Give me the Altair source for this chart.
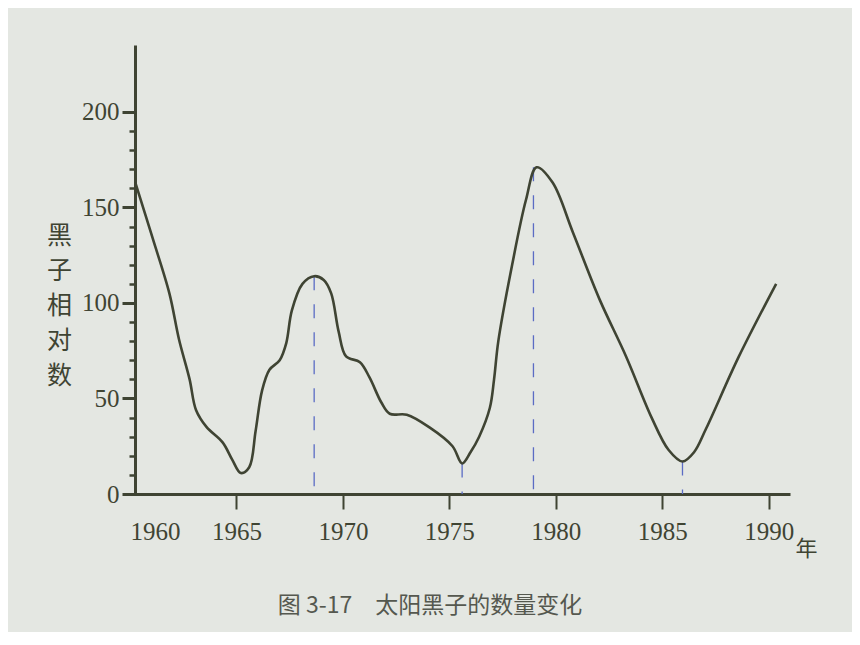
import altair as alt
import pandas as pd

# Curve of sunspot relative numbers
years = [1960.25, 1961.06, 1961.85, 1962.3, 1962.8, 1963.1, 1963.6, 1964.35, 1964.8, 1965.2,
         1965.6, 1965.9, 1966.2, 1966.55, 1967.03, 1967.34, 1967.6, 1968.1, 1968.65, 1969.1,
         1969.45, 1969.8, 1970.15, 1970.8, 1971.25, 1971.8, 1972.2, 1973.0, 1974.05, 1975.15,
         1975.6, 1976.0, 1976.4, 1976.9, 1977.1, 1977.3, 1977.95, 1978.6, 1979.1, 1979.85,
         1980.8, 1982.05, 1983.3, 1984.5, 1985.3, 1985.95, 1986.5, 1987.05, 1988.6, 1990.35]
values = [163, 134, 105, 81, 60, 44, 35, 27, 18, 11,
          14, 33, 54, 65, 70, 79, 96, 110, 114, 112,
          105, 85, 72, 69, 61, 48, 42, 41.5, 35, 25,
          16, 22, 30, 45, 60, 80, 120, 154, 171, 163,
          137, 102, 72, 40, 23, 17, 22, 34, 72, 110]

# Dashed guide lines at peaks / troughs
mark_years = [1968.65, 1975.6, 1978.95, 1985.95]
mark_values = [114, 16, 171, 17]

x_ticks = [1960, 1965, 1970, 1975, 1980, 1985, 1990]
y_major = [0, 50, 100, 150, 200]
y_minor = [10, 20, 30, 40, 60, 70, 80, 90, 110, 120, 130, 140, 160, 170, 180, 190]

y_title = ["黑", "子", "相", "对", "数"]
x_title = "年"
caption = "图 3-17\u3000太阳黑子的数量变化"

curve_df = pd.DataFrame({"year": years, "value": values})
guide_df = pd.DataFrame({"year": mark_years, "value": mark_values})

INK = "#3f4433"
BG = "#e4e7e2"

x_scale = alt.Scale(domain=[1960, 1991], nice=False, zero=False)
y_scale = alt.Scale(domain=[0, 235], nice=False)

x_axis = alt.Axis(
    values=x_ticks, format="d",
    tickSize=15, tickWidth=2, tickColor=INK,
    tickOpacity={"condition": {"test": "datum.value == 1960", "value": 0}, "value": 1},
    domainColor=INK, domainWidth=3,
    labelFont="Liberation Serif", labelFontSize=25, labelColor=INK,
    labelPadding=10, grid=False,
    title=x_title, titleFont="Noto Sans CJK SC", titleFontSize=22, titleFontWeight="normal",
    titleColor=INK, titleAngle=0, titleX=676, titleY=54, titleAlign="center",
    titleBaseline="middle",
)

y_axis_major = alt.Axis(
    values=y_major, orient="left", offset=-5,
    tickSize=13, tickWidth=3, tickColor=INK,
    domainColor=INK, domainWidth=3,
    labelFont="Liberation Serif", labelFontSize=25, labelColor=INK, labelPadding=3,
    grid=False,
    title=y_title, titleFont="Noto Sans CJK SC", titleFontSize=25, titleFontWeight="normal",
    titleColor=INK, titleAngle=0, titleX=-76, titleY=178, titleAlign="center",
    titleBaseline="top", titleLineHeight=35,
)

y_axis_minor = alt.Axis(
    values=y_minor, orient="left", offset=-5,
    tickSize=6, tickWidth=2.5, tickColor=INK,
    domain=False, labels=False, title=None, grid=False,
)

base = alt.Chart(curve_df)

line = base.mark_line(
    color=INK, strokeWidth=2.6, interpolate="catmull-rom"
).encode(
    x=alt.X("year:Q", scale=x_scale, axis=x_axis),
    y=alt.Y("value:Q", scale=y_scale, axis=y_axis_major),
)

guides = alt.Chart(guide_df).mark_rule(
    color="#5b6cc4", strokeWidth=1.3, strokeDash=[14, 14]
).encode(
    x=alt.X("year:Q", scale=x_scale),
    y=alt.Y("value:Q", scale=y_scale, axis=y_axis_minor),
    y2=alt.datum(0),
)

chart = alt.layer(guides, line).resolve_axis(y="independent").properties(
    width=660,
    height=449,
    autosize=alt.AutoSizeParams(type="none"),
    padding={"left": 122, "top": 37, "right": 62, "bottom": 138},
    background=BG,
    title=alt.TitleParams(
        caption, orient="bottom", anchor="middle", dx=-30, offset=36,
        font="Noto Sans CJK SC", fontSize=23, fontWeight="normal", color="#55584f",
    ),
).configure_view(stroke=None)

chart.save("out.html", embed_options={"renderer": "svg", "actions": False})
